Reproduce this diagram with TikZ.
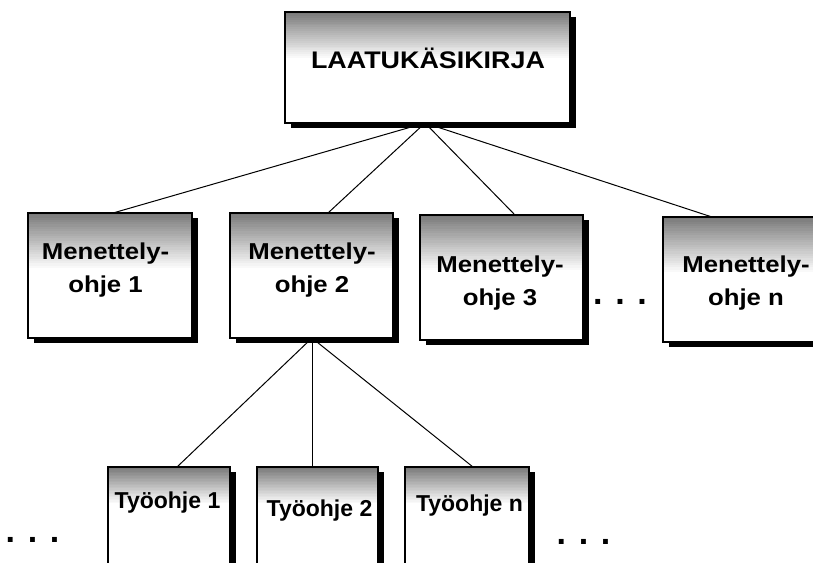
\documentclass[tikz,border=0pt]{standalone}
\usepackage{fontspec}
\setmainfont{Liberation Sans}
\newfontfamily\widefont[FakeStretch=1.12]{Liberation Sans}
\usetikzlibrary{shadows}
% #1 node name, #2 left x, #3 top y, #4 right x, #5 depth of the grey band
\newcommand\boxshade[5]{%
  \foreach \i in {0,...,23}{
    \pgfmathsetmacro\ya{#3+#5*\i/24}
    \pgfmathsetmacro\yb{#3+#5*(\i+1)/24+0.3}
    \pgfmathsetmacro\tone{52*(1-\i/24)}
    \fill[black!\tone] (#2,\ya) rectangle (#4,\yb);
  }
  \draw[line width=1.3pt] (#1.north west) rectangle (#1.south east);
}
\begin{document}
\begin{tikzpicture}[x=1pt,y=-1pt,
  box/.style={draw=black, line width=1.3pt, fill=white, inner sep=0pt, outer sep=0pt,
    drop shadow={shadow xshift=6pt, shadow yshift=-5pt, fill=black, opacity=1}},
  widelbl/.style={inner sep=0pt, anchor=base, align=center,
    font=\widefont\bfseries\fontsize{23}{33}\selectfont},
  toplbl/.style={inner sep=0pt, anchor=base,
    font=\widefont\bfseries\fontsize{24}{28}\selectfont},
  worklbl/.style={inner sep=0pt, anchor=base,
    font=\bfseries\fontsize{23}{28}\selectfont},
  dotslbl/.style={inner sep=0pt, anchor=base,
    font=\bfseries\fontsize{34}{34}\selectfont},
  link/.style={draw=black, line width=1pt}]
\useasboundingbox (0,0) rectangle (813,562);
\clip (0,0) rectangle (813,562);
\fill[white] (0,0) rectangle (813,562);

% hubs
\coordinate (hubtop) at (425,123);
\coordinate (hubmid) at (312,338);

% connectors (drawn first, boxes cover their ends)
\draw[link] (hubtop) -- (113,213) coordinate (e1);
\draw[link] (hubtop) -- (328,213) coordinate (e2);
\draw[link] (hubtop) -- (515,215) coordinate (e3);
\draw[link] (hubtop) -- (712,217) coordinate (en);
\draw[link] (hubmid) -- (177,467) coordinate (f1);
\draw[link] (hubmid) -- (312,467) coordinate (f2);
\draw[link] (hubmid) -- (473,467) coordinate (fn);

% boxes
\node[box, minimum width=285pt, minimum height=111pt] (top) at (427.5,67.5) {};
\boxshade{top}{285}{12}{570}{46}
\node[box, minimum width=164pt, minimum height=125pt] (m1) at (110,275.5) {};
\boxshade{m1}{28}{213}{192}{55}
\node[box, minimum width=163pt, minimum height=125pt] (m2) at (311.5,275.5) {};
\boxshade{m2}{230}{213}{393}{55}
\node[box, minimum width=163pt, minimum height=125pt] (m3) at (501.5,277.5) {};
\boxshade{m3}{420}{215}{583}{55}
\node[box, minimum width=163pt, minimum height=125pt] (mn) at (744.5,279.5) {};
\boxshade{mn}{663}{217}{826}{55}
\node[box, minimum width=122pt, minimum height=133pt] (t1) at (169,533.5) {};
\boxshade{t1}{108}{467}{230}{36}
\node[box, minimum width=121pt, minimum height=133pt] (t2) at (317.5,533.5) {};
\boxshade{t2}{257}{467}{378}{36}
\node[box, minimum width=124pt, minimum height=133pt] (tn) at (467,533.5) {};
\boxshade{tn}{405}{467}{529}{36}

% labels
\node[toplbl] (ltop) at (428,68) {LAATUKÄSIKIRJA};
\node[widelbl] (l1) at (105.5,292) {Menettely-\\ohje 1};
\node[widelbl] (l2) at (312,292) {Menettely-\\ohje 2};
\node[widelbl] (l3) at (500,305) {Menettely-\\ohje 3};
\node[widelbl] (ln) at (746,305) {Menettely-\\ohje n};
\node[worklbl] (w1) at (167.5,508) {Työohje 1};
\node[worklbl] (w2) at (319.5,516) {Työohje 2};
\node[worklbl] (wn) at (469.5,511) {Työohje n};

% ellipses
\node[dotslbl] (d1) at (620,304.5) {. . .};
\node[dotslbl] (d2) at (32.5,542.5) {. . .};
\node[dotslbl] (d3) at (583.5,544.5) {. . .};
\end{tikzpicture}
\end{document}
